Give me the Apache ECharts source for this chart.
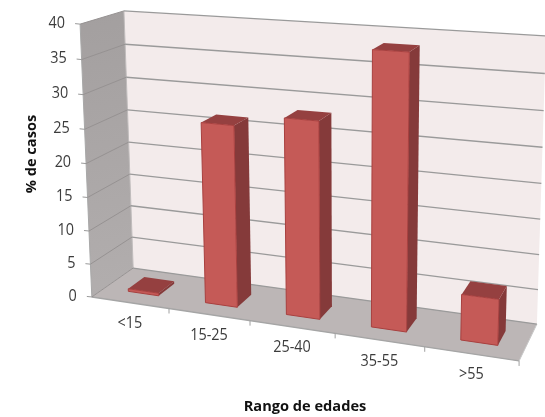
<!DOCTYPE html>
<html><head><meta charset="utf-8">
<style>html,body{margin:0;padding:0;background:#fff}#c{width:545px;height:417px}</style>
<script src="https://cdn.jsdelivr.net/npm/echarts@6/dist/echarts.min.js"></script>
</head><body><div id="c"></div>
<script>
const categories = ['<15','15-25','25-40','35-55','>55'];
const casePercent = [0.4, 26.5, 28.2, 38.4, 6.4];
const valueTicks = [0,5,10,15,20,25,30,35,40];
const yAxisTitle = '% de casos';
const xAxisTitle = 'Rango de edades';

const W=545,H=417;
// camera calibration: box corners (u,v,d) to screen
const calib=[[0,0,0,92,297],[1,0,0,519,361],[0,1,0,80,24],[0,0,1,133,268],[1,0,1,537,324],[0,1,1,124,11],[1,1,1,546,36]];
function solveCamera(){
  const A=[],b=[];
  calib.forEach(([u,v,d,x,y])=>{
    x/=500;y/=500;
    A.push([u,v,d,1,0,0,0,0,-x*u,-x*v,-x*d]);b.push(x);
    A.push([0,0,0,0,u,v,d,1,-y*u,-y*v,-y*d]);b.push(y);
  });
  const n=11,M=[];
  for(let i=0;i<n;i++){M[i]=[];for(let j=0;j<n;j++){let s=i===j?1e-10:0;A.forEach(r=>s+=r[i]*r[j]);M[i][j]=s;}
    let s=0;A.forEach((r,k)=>s+=r[i]*b[k]);M[i][n]=s;}
  for(let i=0;i<n;i++){let p=i;for(let k=i+1;k<n;k++)if(Math.abs(M[k][i])>Math.abs(M[p][i]))p=k;
    [M[i],M[p]]=[M[p],M[i]];
    for(let k=0;k<n;k++){if(k===i)continue;const f=M[k][i]/M[i][i];for(let j=i;j<=n;j++)M[k][j]-=f*M[i][j];}}
  return M.map((r,i)=>r[n]/r[i]);
}
const P=solveCamera();
function proj(u,v,d){
  const w=P[8]*u+P[9]*v+P[10]*d+1;
  return [500*(P[0]*u+P[1]*v+P[2]*d+P[3])/w,500*(P[4]*u+P[5]*v+P[6]*d+P[7])/w];
}
// library coordinates -> normalised box coordinates
const toU=px=>px/W, toV=py=>1-py/H;
const poly=(pts,fill,stroke,lw)=>({type:'polygon',shape:{points:pts},style:{fill,stroke:stroke||null,lineWidth:lw||0}});
const line=(a,b,stroke,lw)=>({type:'line',shape:{x1:a[0],y1:a[1],x2:b[0],y2:b[1]},style:{stroke,lineWidth:lw||1,fill:null}});
const FONT='"Open Sans"';
const txtColor='#3c3c3c';
const label=(text,x,y,align)=>({type:'text',x,y,scaleX:0.9,style:{text,x:0,y:0,textAlign:align,textVerticalAlign:'middle',font:'16px '+FONT,fill:txtColor}});

const wallSeries={type:'custom',coordinateSystem:'cartesian2d',silent:true,animation:false,clip:false,z:1,
  data:[[0,0]],encode:{x:0,y:1},
  renderItem(){
    const sideFill=new echarts.graphic.LinearGradient(0,0,1,1,[{offset:0,color:'#a39f9f'},{offset:1,color:'#b2aeae'}]);
    return {type:'group',children:[
      poly([proj(0,0,1),proj(1,0,1),proj(1,1,1),proj(0,1,1)],'#f3ebeb'),
      poly([proj(0,0,0),proj(0,0,1),proj(0,1,1),proj(0,1,0)],sideFill),
      poly([proj(0,0,0),proj(1,0,0),proj(1,0,1),proj(0,0,1)],'#bcb6b6'),
      line(proj(0,0,0),proj(1,0,0),'#a5a5a5',1.4),
      line(proj(1,0,0),proj(1,0,1),'#c8c8c8',1),
      line(proj(0,0,0),proj(0,1,0),'#a8a8a8',1),
      line(proj(0,0,1),proj(0,1,1),'#c0bcbc',1)
    ]};
  }};

const valueSeries={type:'custom',coordinateSystem:'cartesian2d',silent:true,animation:false,clip:false,z:2,
  data:valueTicks.map(v=>[0,v]),encode:{x:0,y:1},
  renderItem(params,api){
    const val=api.value(1), v=toV(api.coord([0,val])[1]);
    const f=proj(0,v,0), tick=[f[0]-5,f[1]-0.5];
    return {type:'group',children:[
      line(proj(0,v,1),proj(1,v,1),'#9a9a9a',1.3),
      line(f,proj(0,v,1),'#969292',1),
      line(f,tick,'#9a9a9a',1),
      label(String(val),f[0]-15,f[1]-1,'right')
    ]};
  }};

const catSeries={type:'custom',coordinateSystem:'cartesian2d',silent:true,animation:false,clip:false,z:2,
  data:categories.map((c,i)=>[i,0]),encode:{x:0,y:1},
  renderItem(params,api){
    const i=api.value(0), c=api.coord([i,0]), band=api.size([1,0])[0];
    const uc=toU(c[0]), du=toU(band)/2;
    const e=proj(uc+du,0,0), m=proj(uc,0,0);
    return {type:'group',children:[
      line(e,[e[0],e[1]+5],'#a0a0a0',1),
      label(categories[i],m[0],m[1]+21,'center')
    ]};
  }};

const d0=0.3,d1=0.7,barShift=0.003;
const barSeries={type:'custom',coordinateSystem:'cartesian2d',silent:true,animation:false,clip:false,z:3,
  data:categories.map((c,i)=>[i,casePercent[i]]),encode:{x:0,y:1},
  renderItem(params,api){
    const c=api.coord([api.value(0),api.value(1)]), hw=toU(api.size([1,0])[0])*0.2;
    const uc=toU(c[0])+barShift, u0=uc-hw,u1=uc+hw,v=toV(c[1]);
    return {type:'group',children:[
      poly([proj(u1,0,d0),proj(u1,0,d1),proj(u1,v,d1),proj(u1,v,d0)],'#853a3a'),
      poly([proj(u0,v,d0),proj(u1,v,d0),proj(u1,v,d1),proj(u0,v,d1)],'#954040'),
      poly([proj(u0,0,d0),proj(u1,0,d0),proj(u1,v,d0),proj(u0,v,d0)],'#c55a57','#a8403f',1)
    ]};
  }};

const chart=echarts.init(document.getElementById('c'),null,{renderer:'canvas',width:W,height:H});
chart.setOption({
  animation:false,backgroundColor:'#fff',
  grid:{left:0,top:0,width:W,height:H},
  xAxis:{type:'category',data:categories,show:false},
  yAxis:{type:'value',min:0,max:40,interval:5,show:false},
  series:[wallSeries,valueSeries,catSeries,barSeries],
  graphic:[
    {type:'text',z:10,silent:true,rotation:Math.PI/2,x:32,y:154,style:{text:yAxisTitle,textAlign:'center',textVerticalAlign:'middle',font:'bold 14.6px '+FONT,fill:'#111'}},
    {type:'text',z:10,silent:true,x:305,y:407,style:{text:xAxisTitle,textAlign:'center',textVerticalAlign:'middle',font:'bold 14.6px '+FONT,fill:'#111'}}
  ]
});
</script></body></html>
